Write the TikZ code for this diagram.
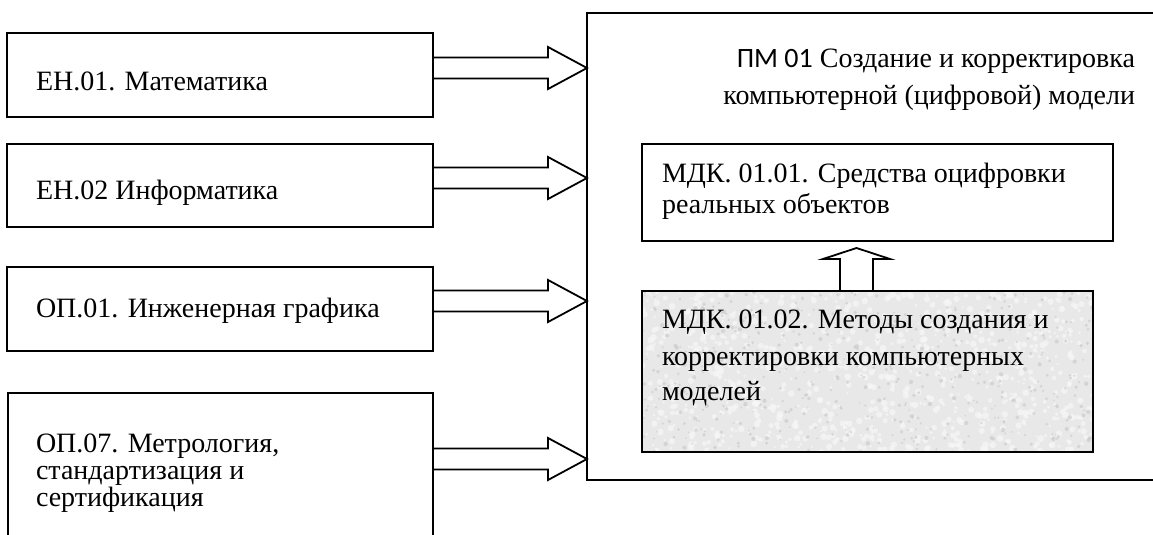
\documentclass[tikz,border=0pt]{standalone}
\usepackage{fontspec}
\setmainfont{Liberation Serif}
\newfontfamily\calibri{Carlito}
\usetikzlibrary{calc}
\newcommand\rblockarrow[2]{%
  \draw[blk] ($(#1)+(0,-10.5)$) -- ($(#2)+(-39,-10.5)$) -- ($(#2)+(-39,-21)$) -- (#2)
    -- ($(#2)+(-39,21)$) -- ($(#2)+(-39,10.5)$) -- ($(#1)+(0,10.5)$);}
\newcommand\ublockarrow[2]{%
  \draw[blk] ($(#1)+(-16.5,0)$) -- ($(#2)+(-16.5,11)$) -- ($(#2)+(-33.5,11)$) -- (#2)
    -- ($(#2)+(33.5,11)$) -- ($(#2)+(16.5,11)$) -- ($(#1)+(16.5,0)$);}
\begin{document}
\begin{tikzpicture}[x=1pt,y=-1pt,
  box/.style={draw, line width=1.8pt, inner sep=0pt, outer sep=0pt, anchor=north west},
  txt/.style={inner sep=0pt, outer sep=0pt, anchor=base west, font=\fontsize{28}{30}\selectfont},
  rtxt/.style={txt, anchor=base east},
  blk/.style={draw, line width=1.8pt, line join=miter},
  speck/.style={fill=#1, draw=none}]
\clip (0,0) rectangle (1153,535);
% left boxes
\node[box, minimum width=426pt, minimum height=84pt] (b1) at (7,33) {};
\node[box, minimum width=426pt, minimum height=83pt] (b2) at (7,144) {};
\node[box, minimum width=426pt, minimum height=84pt] (b3) at (7,267) {};
\node[box, minimum width=425pt, minimum height=200pt] (b4) at (8,393) {};
% big box
\node[box, minimum width=600pt, minimum height=467pt] (big) at (587,13) {};
% inner boxes
\node[box, minimum width=471pt, minimum height=97pt] (m1) at (642,144) {};
\node[box, minimum width=451pt, minimum height=161pt, fill=black!9] (m2) at (642,291) {};
% granite-like texture of the grey box
\begin{scope}
  \clip (m2.north west) rectangle (m2.south east);
  \pgfmathsetseed{17}
  \foreach \i in {1,...,900}{
    \pgfmathsetmacro\px{642+451*rnd}
    \pgfmathsetmacro\py{291+161*rnd}
    \pgfmathsetmacro\pr{1.2+2.2*rnd}
    \fill[speck=black!3, opacity=0.7] (\px,\py) circle[radius=\pr pt];
  }
  \foreach \i in {1,...,500}{
    \pgfmathsetmacro\px{642+451*rnd}
    \pgfmathsetmacro\py{291+161*rnd}
    \pgfmathsetmacro\pr{0.8+1.4*rnd}
    \fill[speck=black!20, opacity=0.7] (\px,\py) circle[radius=\pr pt];
  }
\end{scope}
\draw[line width=1.8pt] (m2.north west) rectangle (m2.south east);
% texts
\node[txt] (t1) at (36,90) {ЕН.01. Математика};
\node[txt] (t2) at (36,199) {ЕН.02 Информатика};
\node[txt] (t3) at (36,317) {ОП.01. Инженерная графика};
\node[txt] (t4a) at (36,452) {ОП.07. Метрология,};
\node[txt] (t4b) at (36,479) {стандартизация и};
\node[txt] (t4c) at (36,506) {сертификация};
\node[rtxt] (h1) at (1135,67) {{\calibri ПМ 01} Создание и корректировка};
\node[rtxt] (h2) at (1135,104) {компьютерной (цифровой) модели};
\node[txt] (m1a) at (662,182) {МДК. 01.01. Средства оцифровки};
\node[txt] (m1b) at (662,213) {реальных объектов};
\node[txt] (m2a) at (662,328) {МДК. 01.02. Методы создания и};
\node[txt] (m2b) at (662,365) {корректировки компьютерных};
\node[txt] (m2c) at (662,400) {моделей};
% arrows
\coordinate (y1) at (0,68);
\coordinate (y2) at (0,178);
\coordinate (y3) at (0,301);
\coordinate (y4) at (0,459);
\rblockarrow{b1.east |- y1}{big.west |- y1}
\rblockarrow{b2.east |- y2}{big.west |- y2}
\rblockarrow{b3.east |- y3}{big.west |- y3}
\rblockarrow{b4.east |- y4}{big.west |- y4}
\coordinate (ux) at (856.5,248);
\ublockarrow{m2.north -| ux}{ux}
\end{tikzpicture}
\end{document}
